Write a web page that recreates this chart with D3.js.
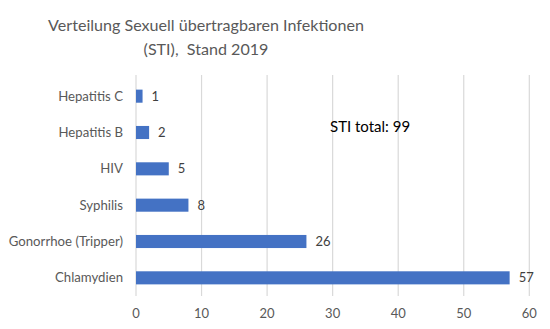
<!DOCTYPE html>
<html><head><meta charset="utf-8">
<script src="https://cdn.jsdelivr.net/npm/d3@7"></script>
<style>body{margin:0;background:#fff}svg{display:block}</style>
</head><body>
<svg id="c" width="550" height="329"></svg>
<script>
const categories = ["Hepatitis C","Hepatitis B","HIV","Syphilis","Gonorrhoe (Tripper)","Chlamydien"];
const values = [1,2,5,8,26,57];
const xTicks = [0,10,20,30,40,50,60];
const titleLines = ["Verteilung Sexuell übertragbaren Infektionen","(STI),  Stand 2019"];
const annotation = "STI total: 99";

const svg = d3.select("#c");
const font = "Lato, 'Open Sans', sans-serif";
const x = d3.scaleLinear().domain([0,60]).range([136,529.3]);
const y = d3.scaleBand().domain(categories).range([78,296]).paddingInner(0.64).paddingOuter(0.32);

svg.append("g").selectAll("line").data(xTicks).join("line")
  .attr("x1",d=>x(d)).attr("x2",d=>x(d)).attr("y1",75).attr("y2",296)
  .attr("stroke","#d9d9d9").attr("stroke-width",1.2);

svg.append("g").selectAll("rect").data(values).join("rect")
  .attr("x",x(0)).attr("y",(d,i)=>y(categories[i]))
  .attr("width",d=>x(d)-x(0)).attr("height",y.bandwidth())
  .attr("fill","#4472C4");

svg.append("g").selectAll("text").data(values).join("text")
  .attr("x",d=>x(d)+9).attr("y",(d,i)=>y(categories[i])+y.bandwidth()/2)
  .attr("dy","0.35em").attr("font-family",font).attr("font-size",13)
  .attr("fill","#404040").text(d=>d);

svg.append("g").selectAll("text").data(categories).join("text")
  .attr("x",123).attr("y",d=>y(d)+y.bandwidth()/2).attr("dy","0.35em")
  .attr("text-anchor","end").attr("font-family",font).attr("font-size",13.2)
  .attr("fill","#595959").text(d=>d);

svg.append("g").selectAll("text").data(xTicks).join("text")
  .attr("x",d=>x(d)).attr("y",313).attr("dy","0.35em")
  .attr("text-anchor","middle").attr("font-family",font).attr("font-size",13)
  .attr("fill","#595959").text(d=>d);

svg.append("g").selectAll("text").data(titleLines).join("text")
  .attr("x",206).attr("y",(d,i)=>25+i*24).attr("dy","0.35em")
  .attr("text-anchor","middle").attr("font-family",font).attr("font-size",16.1)
  .attr("fill","#595959").attr("xml:space","preserve").style("white-space","pre").text(d=>d);

svg.append("text").attr("x",330).attr("y",127).attr("dy","0.35em")
  .attr("font-family",font).attr("font-size",15).attr("fill","#000").text(annotation);
</script>
</body></html>
